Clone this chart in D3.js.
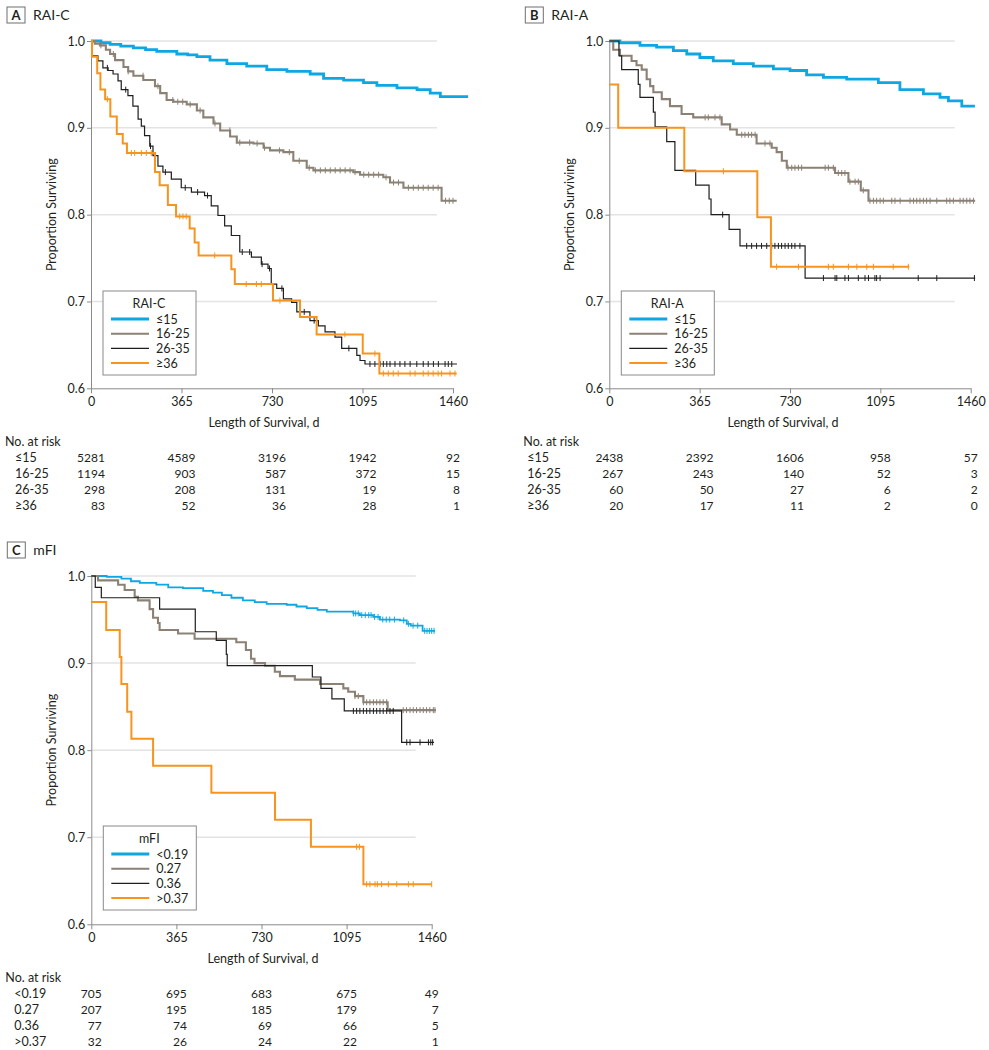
<!DOCTYPE html>
<html>
<head>
<meta charset="utf-8">
<script src="https://cdn.jsdelivr.net/npm/d3@7"></script>
<style>
  body { margin: 0; background: #fff; }
  svg { font-family: Lato, "Open Sans", sans-serif; }
</style>
</head>
<body>
<svg id="chart" width="989" height="1050"></svg>
<script>
// axis ticks and group names
const xTicks = [0, 365, 730, 1095, 1460];
const yTicks = [0.6, 0.7, 0.8, 0.9, 1.0];
const groupsRAI = ['≤15', '16-25', '26-35', '≥36'];
const groupsMFI = ['<0.19', '0.27', '0.36', '>0.37'];

// panel A, RAI-C: survival steps [day, proportion]
const raiC_le15 = [[0,1],[40,0.998],[77,0.996],[120,0.994],[171,0.992],[220,0.990],[265,0.988],[346,0.985],[390,0.984],[427,0.982],[480,0.978],[548,0.974],[628,0.971],[709,0.967],[790,0.965],[884,0.962],[938,0.957],[1019,0.955],[1099,0.952],[1153,0.949],[1234,0.946],[1315,0.944],[1368,0.940],[1409,0.936],[1521,0.936]];
const raiC_16_25 = [[0,1],[15,0.997],[36,0.995],[60,0.990],[77,0.985],[97,0.978],[131,0.970],[150,0.965],[171,0.960],[211,0.955],[258,0.948],[279,0.940],[305,0.932],[332,0.930],[386,0.927],[427,0.920],[453,0.912],[494,0.905],[521,0.897],[561,0.890],[588,0.883],[655,0.882],[696,0.877],[722,0.874],[776,0.872],[816,0.862],[870,0.854],[897,0.851],[1058,0.849],[1085,0.846],[1179,0.843],[1206,0.837],[1260,0.831],[1414,0.816],[1475,0.816]];
const raiC_26_35 = [[0,1],[4,0.983],[28,0.977],[48,0.969],[69,0.966],[89,0.962],[109,0.954],[122,0.944],[149,0.937],[169,0.925],[190,0.910],[203,0.902],[216,0.891],[237,0.879],[250,0.868],[270,0.856],[290,0.849],[324,0.841],[364,0.831],[405,0.826],[458,0.822],[485,0.810],[512,0.799],[539,0.787],[566,0.776],[600,0.757],[647,0.751],[687,0.743],[714,0.738],[727,0.720],[749,0.715],[776,0.703],[809,0.699],[830,0.688],[883,0.678],[917,0.672],[944,0.665],[984,0.659],[1011,0.646],[1072,0.638],[1085,0.632],[1105,0.628],[1476,0.628]];
const raiC_ge36 = [[0,1],[4,0.982],[25,0.963],[38,0.944],[57,0.933],[78,0.913],[104,0.893],[128,0.882],[145,0.871],[258,0.849],[277,0.834],[310,0.811],[343,0.798],[398,0.784],[418,0.768],[434,0.753],[566,0.737],[580,0.720],[734,0.701],[843,0.682],[910,0.662],[1096,0.640],[1163,0.617],[1475,0.617]];
const raiC_16_25_cens = [40,90,150,210,270,330,350,370,400,440,500,560,600,640,670,700,760,800,840,880,905,925,945,965,985,1005,1025,1045,1065,1100,1120,1140,1160,1190,1220,1240,1280,1300,1320,1340,1360,1380,1400,1430,1445,1460];
const raiC_26_35_cens = [66,140,240,300,380,430,470,610,640,690,720,770,860,900,1040,1125,1145,1166,1179,1193,1206,1226,1246,1266,1287,1314,1340,1360,1381,1401,1428,1441,1455];
const raiC_ge36_cens = [66,163,176,203,223,243,358,371,384,499,626,667,687,762,1024,1145,1179,1199,1219,1239,1287,1307,1340,1360,1380,1400,1414,1448,1468];

// panel B, RAI-A
const raiA_le15 = [[0,1],[43,0.998],[124,0.995],[191,0.993],[259,0.989],[313,0.985],[366,0.981],[420,0.977],[501,0.974],[582,0.971],[663,0.968],[730,0.966],[797,0.961],[865,0.958],[959,0.956],[1087,0.952],[1174,0.944],[1269,0.939],[1336,0.935],[1370,0.931],[1424,0.925],[1477,0.925]];
const raiA_16_25 = [[0,1],[16,0.990],[43,0.983],[90,0.977],[110,0.972],[131,0.967],[151,0.956],[165,0.948],[178,0.941],[212,0.933],[245,0.925],[292,0.916],[339,0.912],[454,0.904],[488,0.898],[515,0.892],[595,0.882],[656,0.877],[676,0.872],[697,0.862],[717,0.854],[912,0.848],[966,0.838],[1016,0.828],[1047,0.816],[1478,0.816]];
const raiA_26_35 = [[0,1],[39,0.983],[50,0.967],[117,0.950],[124,0.935],[178,0.918],[185,0.901],[232,0.884],[265,0.851],[349,0.834],[403,0.818],[411,0.800],[484,0.783],[528,0.764],[791,0.727],[1478,0.727]];
const raiA_ge36 = [[0,0.95],[36,0.90],[303,0.85],[598,0.797],[653,0.74],[1212,0.74]];
const raiA_16_25_cens = [387,400,427,447,535,548,562,575,589,629,649,722,737,750,764,777,872,885,905,925,939,952,972,993,1006,1026,1053,1067,1080,1094,1107,1141,1154,1175,1215,1229,1242,1255,1269,1282,1296,1323,1363,1376,1390,1417,1430,1444,1457,1471];
const raiA_26_35_cens = [458,555,575,595,615,636,656,669,683,696,710,723,737,750,770,865,912,919,952,966,1006,1033,1047,1073,1080,1094,1248,1323,1475];
const raiA_ge36_cens = [461,676,764,885,905,966,1000,1040,1067,1147,1208];

// panel C, mFI
const mfi_019 = [[0,1],[66,0.999],[129,0.997],[170,0.994],[208,0.992],[279,0.990],[330,0.987],[393,0.986],[480,0.983],[522,0.981],[560,0.978],[601,0.975],[650,0.972],[701,0.970],[752,0.968],[838,0.967],[880,0.965],[924,0.963],[970,0.961],[1010,0.959],[1124,0.957],[1152,0.955],[1209,0.953],[1238,0.950],[1324,0.949],[1353,0.945],[1370,0.943],[1421,0.937],[1474,0.937]];
const mfi_027 = [[0,1],[29,0.995],[115,0.990],[143,0.984],[186,0.976],[200,0.972],[250,0.962],[265,0.952],[286,0.946],[293,0.938],[372,0.934],[443,0.928],[622,0.924],[663,0.915],[685,0.905],[700,0.900],[745,0.897],[787,0.890],[809,0.885],[873,0.881],[981,0.876],[1081,0.871],[1102,0.867],[1131,0.862],[1167,0.855],[1271,0.846],[1478,0.846]];
const mfi_036 = [[0,1],[17,0.987],[43,0.975],[293,0.962],[446,0.936],[536,0.926],[579,0.910],[583,0.897],[948,0.884],[985,0.871],[1032,0.859],[1085,0.845],[1331,0.809],[1470,0.809]];
const mfi_037 = [[0,0.97],[64,0.938],[122,0.907],[129,0.876],[154,0.844],[172,0.813],[265,0.782],[515,0.751],[788,0.720],[942,0.689],[1167,0.646],[1460,0.646]];
const mfi_019_cens = [1124,1134,1145,1160,1175,1190,1200,1215,1230,1250,1265,1280,1300,1340,1360,1380,1400,1430,1440,1450,1460,1470];
const mfi_027_cens = [1131,1145,1167,1181,1195,1210,1224,1238,1252,1267,1338,1352,1367,1381,1395,1410,1424,1438,1452,1467,1474];
const mfi_036_cens = [1124,1138,1152,1167,1181,1195,1210,1224,1238,1252,1267,1281,1295,1353,1367,1410,1446,1456,1464];
const mfi_037_cens = [1138,1150,1181,1195,1217,1227,1245,1274,1310,1360,1381,1460];

// numbers at risk, one row per group, one column per x tick
const riskRAIC = [[5281,4589,3196,1942,92],[1194,903,587,372,15],[298,208,131,19,8],[83,52,36,28,1]];
const riskRAIA = [[2438,2392,1606,958,57],[267,243,140,52,3],[60,50,27,6,2],[20,17,11,2,0]];
const riskMFI = [[705,695,683,675,49],[207,195,185,179,7],[77,74,69,66,5],[32,26,24,22,1]];

const colors = ['#0ea7e4', '#8b8174', '#1e1e1e', '#f7941e'];
const widths = [2.8, 2.1, 1.2, 2];
const textColor = '#231f20';

const svg = d3.select('#chart');

function drawPanel(p) {
    const g = svg.append('g');
    const x = d3.scaleLinear().domain([0, 1460]).range([p.left, p.right]);
    const y = d3.scaleLinear().domain([0.6, 1.0]).range([p.bottom, p.top]);

    // panel letter and title
    g.append('rect')
        .attr('x', p.left - 84).attr('y', p.top - 34)
        .attr('width', 18).attr('height', 16)
        .attr('fill', 'none').attr('stroke', '#6d6e71');
    g.append('text')
        .attr('x', p.left - 75).attr('y', p.top - 21.5)
        .attr('text-anchor', 'middle').attr('font-weight', 'bold').attr('font-size', 13)
        .attr('fill', textColor).text(p.letter);
    g.append('text')
        .attr('x', p.left - 58).attr('y', p.top - 21)
        .attr('font-size', 14).attr('fill', textColor).text(p.title);

    // grid lines
    g.selectAll('line.grid')
        .data(yTicks.filter(d => d > 0.6))
        .enter().append('line')
        .attr('class', 'grid')
        .attr('x1', p.left).attr('x2', p.right - 16)
        .attr('y1', d => y(d)).attr('y2', d => y(d))
        .attr('stroke', '#e3e3e3').attr('stroke-width', 1.5);

    // axes
    const ya = g.append('g')
        .attr('transform', `translate(${p.left},0)`)
        .call(d3.axisLeft(y).tickValues(yTicks).tickFormat(d3.format('.1f'))
            .tickSize(4).tickSizeOuter(0).tickPadding(2));
    const xa = g.append('g')
        .attr('transform', `translate(0,${p.bottom})`)
        .call(d3.axisBottom(x).tickValues(xTicks).tickFormat(d3.format('d'))
            .tickSize(5).tickSizeOuter(0).tickPadding(4));
    [ya, xa].forEach(a => {
        a.attr('font-family', null).attr('font-size', 12.5);
        a.select('.domain').attr('stroke', '#8a8a8a');
        a.selectAll('.tick line').attr('stroke', '#8a8a8a');
        a.selectAll('.tick text').attr('fill', textColor);
    });

    g.append('text')
        .attr('transform', `translate(${p.left - 35},${(p.top + p.bottom) / 2}) rotate(-90)`)
        .attr('text-anchor', 'middle').attr('font-size', 12.5).attr('fill', textColor)
        .text('Proportion Surviving');
    g.append('text')
        .attr('x', p.titleX).attr('y', p.bottom + 39)
        .attr('text-anchor', 'middle').attr('font-size', 12.5).attr('fill', textColor)
        .text('Length of Survival, d');

    // survival curves
    const line = d3.line()
        .x(d => x(d[0])).y(d => y(d[1]))
        .curve(d3.curveStepAfter);
    const bis = d3.bisector(d => d[0]).right;

    p.series.forEach((s, i) => {
        g.append('path')
            .datum(s.data)
            .attr('fill', 'none')
            .attr('stroke', colors[i])
            .attr('stroke-width', s.width || widths[i])
            .attr('d', line);

        // censor marks
        g.selectAll(null)
            .data(s.censor || [])
            .enter().append('line')
            .attr('x1', d => x(d)).attr('x2', d => x(d))
            .attr('y1', d => y(s.data[Math.max(0, bis(s.data, d) - 1)][1]) - 3)
            .attr('y2', d => y(s.data[Math.max(0, bis(s.data, d) - 1)][1]) + 3)
            .attr('stroke', colors[i]).attr('stroke-width', 1);
    });

    // legend
    const lg = g.append('g').attr('transform', `translate(${p.left + 12},${p.top + 250})`);
    lg.append('rect')
        .attr('width', 93).attr('height', 84)
        .attr('fill', '#fff').attr('stroke', '#8a8a8a');
    lg.append('text')
        .attr('x', 46).attr('y', 16.5)
        .attr('text-anchor', 'middle').attr('font-size', 12.5).attr('fill', textColor)
        .text(p.title);
    p.groups.forEach((name, i) => {
        const ly = 28 + i * 14.7;
        lg.append('line')
            .attr('x1', 8).attr('x2', 46).attr('y1', ly).attr('y2', ly)
            .attr('stroke', colors[i]).attr('stroke-width', i === 2 ? 1.3 : widths[i]);
        lg.append('text')
            .attr('x', 53).attr('y', ly + 4.5)
            .attr('font-size', 12.5).attr('fill', textColor)
            .text(name);
    });

    // number at risk table
    g.append('text')
        .attr('x', p.left - 86).attr('y', p.bottom + 58)
        .attr('font-size', 12.5).attr('fill', textColor)
        .text('No. at risk');
    p.groups.forEach((name, i) => {
        g.append('text')
            .attr('x', p.left + p.labelDx).attr('y', p.bottom + 74 + i * 16)
            .attr('font-size', 12.5).attr('fill', textColor)
            .text(name);
    });
    xTicks.forEach((t, j) => {
        const col = g.selectAll(null)
            .data(p.risk.map(r => r[j]))
            .enter().append('text')
            .attr('y', (d, i) => p.bottom + 74 + i * 16)
            .attr('text-anchor', 'end')
            .attr('font-size', 12).attr('fill', textColor)
            .text(d => d);
        let maxW = 0;
        col.each(function () { maxW = Math.max(maxW, this.getComputedTextLength()); });
        col.attr('x', x(t) + maxW / 2);
    });
}

drawPanel({
    letter: 'A', title: 'RAI-C', groups: groupsRAI, risk: riskRAIC,
    left: 91, right: 453, top: 41, bottom: 388.3, titleX: 264, labelDx: -76,
    series: [
        { data: raiC_le15 },
        { data: raiC_16_25, censor: raiC_16_25_cens },
        { data: raiC_26_35, censor: raiC_26_35_cens },
        { data: raiC_ge36, censor: raiC_ge36_cens }
    ]
});

drawPanel({
    letter: 'B', title: 'RAI-A', groups: groupsRAI, risk: riskRAIA,
    left: 609.3, right: 970.7, top: 41, bottom: 388.3, titleX: 783, labelDx: -82,
    series: [
        { data: raiA_le15 },
        { data: raiA_16_25, censor: raiA_16_25_cens },
        { data: raiA_26_35, censor: raiA_26_35_cens },
        { data: raiA_ge36, censor: raiA_ge36_cens }
    ]
});

drawPanel({
    letter: 'C', title: 'mFI', groups: groupsMFI, risk: riskMFI,
    left: 91.3, right: 431.7, top: 576, bottom: 924.3, titleX: 263, labelDx: -77,
    series: [
        { data: mfi_019, censor: mfi_019_cens, width: 1.8 },
        { data: mfi_027, censor: mfi_027_cens },
        { data: mfi_036, censor: mfi_036_cens },
        { data: mfi_037, censor: mfi_037_cens }
    ]
});
</script>
</body>
</html>
